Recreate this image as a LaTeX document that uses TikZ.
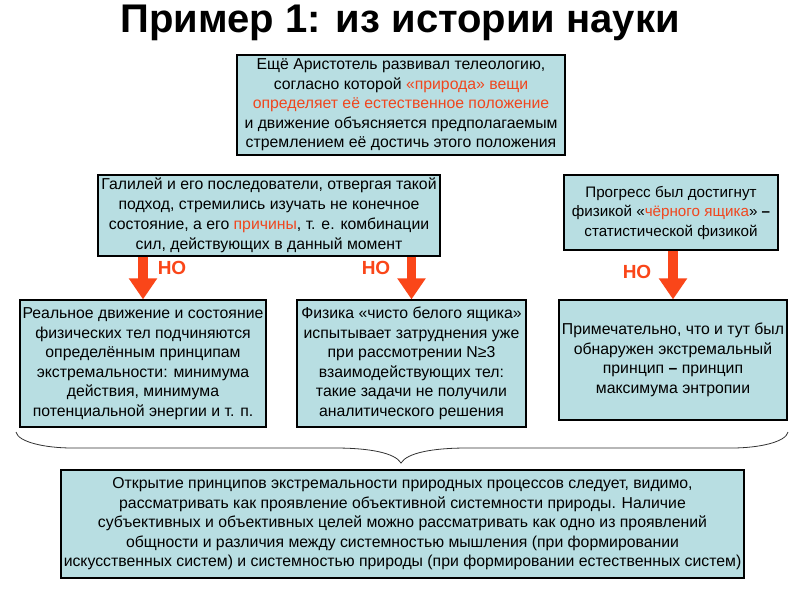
\documentclass[tikz,border=0pt]{standalone}
\usepackage{fontspec}
\setmainfont{Liberation Sans}
\usetikzlibrary{arrows.meta,calc}
\definecolor{boxfill}{RGB}{184,222,226}
\definecolor{redtxt}{RGB}{240,70,30}
\definecolor{arrred}{RGB}{250,70,25}
\tikzset{
  box/.style={draw=black, line width=1.2pt, fill=boxfill, align=center, inner sep=0pt,
    font=\fontsize{15.8}{19.5}\selectfont},
  downarrow/.style={draw=arrred, line width=9.5pt, -{Triangle[length=21pt,width=27pt]}, shorten >=0pt},
  notext/.style={text=arrred, font=\fontsize{19}{22}\selectfont\bfseries},
  bracestyle/.style={draw=black!80, line width=0.8pt}
}
\newcommand{\rd}[1]{\textcolor{redtxt}{#1}}
\begin{document}
\begin{tikzpicture}[x=1pt,y=-1pt]
\useasboundingbox[fill=white] (0,0) rectangle (800,600);
\node[font=\fontsize{40}{44}\selectfont\bfseries] (title) at (400,23) {Пример 1: из истории науки};

\node[box, minimum width=328, minimum height=100] (arist) at (401,105)
 {Ещё Аристотель развивал телеологию,\\
  согласно которой \rd{«природа» вещи}\\
  \rd{определяет её естественное положение}\\
  и движение объясняется предполагаемым\\
  стремлением её достичь этого положения};

\node[box, minimum width=342, minimum height=81, font=\fontsize{15.8}{20}\selectfont] (gal) at (269,215.5)
 {Галилей  и его последователи, отвергая такой\\
  подход, стремились изучать не конечное\\
  состояние, а его \rd{причины},  т. е. комбинации\\
  сил,  действующих  в данный момент};

\node[box, minimum width=214, minimum height=75, font=\fontsize{15.2}{19.5}\selectfont] (prog) at (671,212.5)
 {Прогресс был достигнут\\
  физикой «\rd{чёрного ящика}» {\bfseries –}\\
  статистической физикой};

\node[box, minimum width=246, minimum height=127] (A) at (143,363.5)
 {Реальное движение и состояние\\
  физических тел подчиняются\\
  определённым принципам\\
  экстремальности: минимума\\
  действия, минимума\\
  потенциальной энергии и т. п.};

\node[box, minimum width=229, minimum height=127] (B) at (411.5,363.5)
 {Физика  «чисто белого ящика»\\
  испытывает затруднения уже\\
  при рассмотрении N≥3\\
  взаимодействующих тел:\\
  такие задачи не получили\\
  аналитического решения};

\node[box, minimum width=228, minimum height=120] (C) at (673,360)
 {Примечательно, что и тут был\\
  обнаружен экстремальный\\
  принцип  {\bfseries –} принцип\\
  максимума энтропии};

\node[box, minimum width=683, minimum height=108] (bottom) at (402.5,524)
 {Открытие принципов экстремальности природных процессов следует, видимо,\\
  рассматривать как проявление объективной системности природы.  Наличие\\
  субъективных и объективных целей можно рассматривать как одно из проявлений\\
  общности и различия между системностью мышления (при формировании\\
  искусственных систем) и системностью природы (при формировании естественных систем)};

\draw[downarrow] (A.north |- gal.south) -- (A.north);
\draw[downarrow] (B.north |- gal.south) -- (B.north);
\draw[downarrow] (C.north |- prog.south) -- (C.north);

\node[notext] (no1) at (172,268) {НО};
\node[notext] (no2) at (376,268) {НО};
\node[notext] (no3) at (637,272) {НО};

\coordinate (bl) at (16,432);
\coordinate (bt) at (401,463);
\coordinate (br) at (788,432);
\draw[bracestyle] (bl) .. controls (18,442) and (45,448) .. (72,448)
  -- (335,448) .. controls (370,448) and (395,453) .. (bt)
  .. controls (407,453) and (432,448) .. (467,448)
  -- (732,448) .. controls (759,448) and (786,442) .. (br);
\end{tikzpicture}
\end{document}
